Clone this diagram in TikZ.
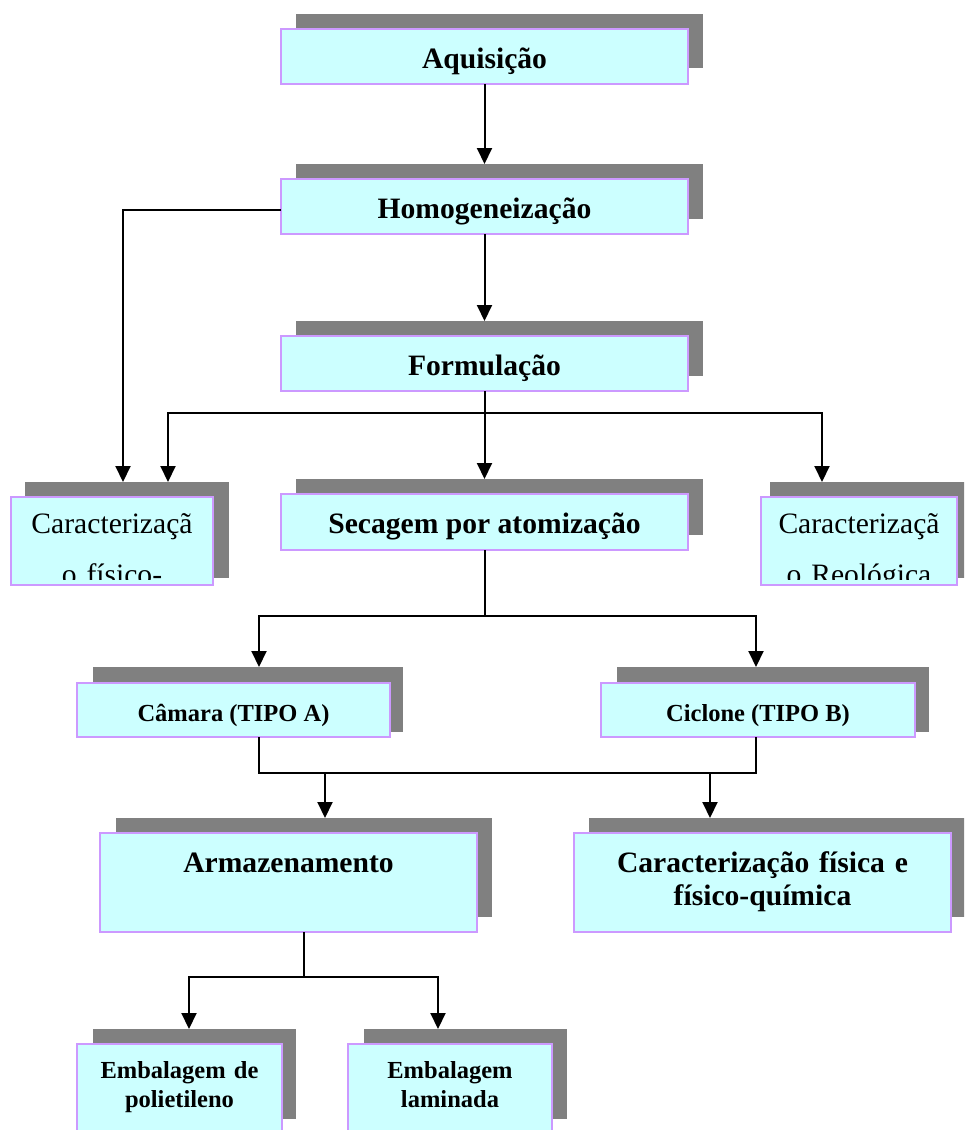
\documentclass[tikz,border=0pt]{standalone}
\usepackage{fontspec}
\setmainfont{Liberation Serif}
\usetikzlibrary{arrows.meta,calc}
\definecolor{boxfill}{RGB}{204,255,255}
\definecolor{boxline}{RGB}{204,153,255}
\definecolor{shadowgray}{RGB}{128,128,128}
\begin{document}
\begin{tikzpicture}[x=1pt,y=-1pt,
  shad/.style={rectangle,fill=shadowgray,draw=none,inner sep=0pt,outer sep=0pt},
  fbox/.style={rectangle,fill=boxfill,draw=boxline,line width=2pt,inner sep=0pt,outer sep=0pt},
  bigtxt/.style={font=\fontsize{29.6}{33}\selectfont\bfseries,inner sep=0pt,anchor=base,align=center},
  smalltxt/.style={font=\fontsize{24.5}{29}\selectfont\bfseries,inner sep=0pt,anchor=base,align=center},
  plaintxt/.style={font=\fontsize{29.6}{51}\selectfont,inner sep=0pt,anchor=base,align=center},
  conn/.style={line width=2pt,black},
  arr/.style={conn,-{Triangle[width=15pt,length=16pt]}}]
\useasboundingbox (0,0) rectangle (964,1130);
\clip (0,0) rectangle (964,1130);

% Aquisicao
\node[shad,minimum width=407pt,minimum height=54pt] (aqS) at (499.5,41) {};
\node[fbox,minimum width=407pt,minimum height=55pt] (aq) at (484.5,56.5) {};
\node[bigtxt] (taq) at ($(aq.north)+(0,39)$) {Aquisição};

% Homogeneizacao
\node[shad,minimum width=407pt,minimum height=55pt] (homS) at (499.5,191.5) {};
\node[fbox,minimum width=407pt,minimum height=55pt] (hom) at (484.5,206.5) {};
\node[bigtxt] (thom) at ($(hom.north)+(0,39)$) {Homogeneização};

% Formulacao
\node[shad,minimum width=407pt,minimum height=55pt] (formS) at (499.5,348.5) {};
\node[fbox,minimum width=407pt,minimum height=55pt] (form) at (484.5,363.5) {};
\node[bigtxt] (tform) at ($(form.north)+(0,39)$) {Formulação};

% Secagem
\node[shad,minimum width=407pt,minimum height=56pt] (secS) at (499.5,507) {};
\node[fbox,minimum width=407pt,minimum height=56pt] (sec) at (484.5,522) {};
\node[bigtxt] (tsec) at ($(sec.north)+(0,39)$) {Secagem por atomização};

% Left characterization
\node[shad,minimum width=204pt,minimum height=96pt] (clS) at (127,530) {};
\node[fbox,minimum width=202pt,minimum height=88pt] (cl) at (112,541) {};
\begin{scope}
\clip (cl.north west) rectangle ($(cl.south east)+(0,-6)$);
\node[plaintxt,text width=200pt] (tcl) at ($(cl.north)+(0,36)$) {Caracterizaçã\\o físico-};
\end{scope}

% Right characterization
\node[shad,minimum width=204pt,minimum height=96pt] (crS) at (872,530) {};
\node[fbox,minimum width=196pt,minimum height=88pt] (cr) at (859,541) {};
\begin{scope}
\clip (cr.north west) rectangle ($(cr.south east)+(0,-6)$);
\node[plaintxt,text width=194pt] (tcr) at ($(cr.north)+(0,36)$) {Caracterizaçã\\o Reológica};
\end{scope}

% Camara
\node[shad,minimum width=310pt,minimum height=65pt] (camS) at (248,699.5) {};
\node[fbox,minimum width=313pt,minimum height=54pt] (cam) at (233.5,710) {};
\node[smalltxt] (tcam) at ($(cam.north)+(0,38)$) {Câmara (TIPO A)};

% Ciclone
\node[shad,minimum width=312pt,minimum height=65pt] (cicS) at (773,699.5) {};
\node[fbox,minimum width=314pt,minimum height=54pt] (cic) at (758,710) {};
\node[smalltxt] (tcic) at ($(cic.north)+(0,38)$) {Ciclone (TIPO B)};

% Armazenamento
\node[shad,minimum width=376pt,minimum height=99pt] (armS) at (304,867.5) {};
\node[fbox,minimum width=377pt,minimum height=99pt] (arm) at (288.5,882.5) {};
\node[bigtxt] (tarm) at ($(arm.north)+(0,39)$) {Armazenamento};

% Caracterizacao fisica
\node[shad,minimum width=377pt,minimum height=99pt] (cfS) at (777.5,867.5) {};
\node[fbox,minimum width=377pt,minimum height=99pt] (cf) at (762.5,882.5) {};
\node[bigtxt,text width=370pt] (tcf) at ($(cf.north)+(0,39)$) {Caracterização física e\\físico-química};

% Embalagens
\node[shad,minimum width=203pt,minimum height=90pt] (e1S) at (194.5,1074) {};
\node[fbox,minimum width=205pt,minimum height=96pt] (e1) at (179.5,1092) {};
\node[smalltxt,text width=200pt] (te1) at ($(e1.north)+(0,34)$) {Embalagem de\\polietileno};

\node[shad,minimum width=203pt,minimum height=90pt] (e2S) at (465.5,1074) {};
\node[fbox,minimum width=204pt,minimum height=96pt] (e2) at (450,1092) {};
\node[smalltxt,text width=200pt] (te2) at ($(e2.north)+(0,34)$) {Embalagem\\laminada};

% Connectors
\draw[arr] (aq.south) -- (aq.south |- homS.north);
\draw[arr] (hom.south) -- (hom.south |- formS.north);

\coordinate (hL) at (123,210);
\draw[arr] (hom.west |- hL) -- (hL) -- (hL |- clS.north);

\coordinate (fj) at (484.5,413);
\coordinate (fL) at (168,413);
\coordinate (fR) at (822,413);
\draw[conn] (form.south) -- (fj);
\draw[arr] (fj) -- (fL) -- (fL |- clS.north);
\draw[arr] (fj) -- (fR) -- (fR |- crS.north);
\draw[arr] (fj) -- (fj |- secS.north);

\coordinate (sj) at (484.5,616);
\coordinate (sL) at (259,616);
\coordinate (sR) at (756,616);
\draw[conn] (sec.south) -- (sj);
\draw[arr] (sj) -- (sL) -- (sL |- camS.north);
\draw[arr] (sj) -- (sR) -- (sR |- cicS.north);

\coordinate (cL) at (259,773);
\coordinate (cR) at (756,773);
\coordinate (cA) at (325,773);
\coordinate (cB) at (710,773);
\draw[conn] (cam.south -| cL) -- (cL) -- (cR) -- (cic.south -| cR);
\draw[arr] (cA) -- (cA |- armS.north);
\draw[arr] (cB) -- (cB |- cfS.north);

\coordinate (aj) at (304,977);
\coordinate (aL) at (189,977);
\coordinate (aR) at (438,977);
\draw[conn] (arm.south -| aj) -- (aj);
\draw[arr] (aj) -- (aL) -- (aL |- e1S.north);
\draw[arr] (aj) -- (aR) -- (aR |- e2S.north);
\end{tikzpicture}
\end{document}
